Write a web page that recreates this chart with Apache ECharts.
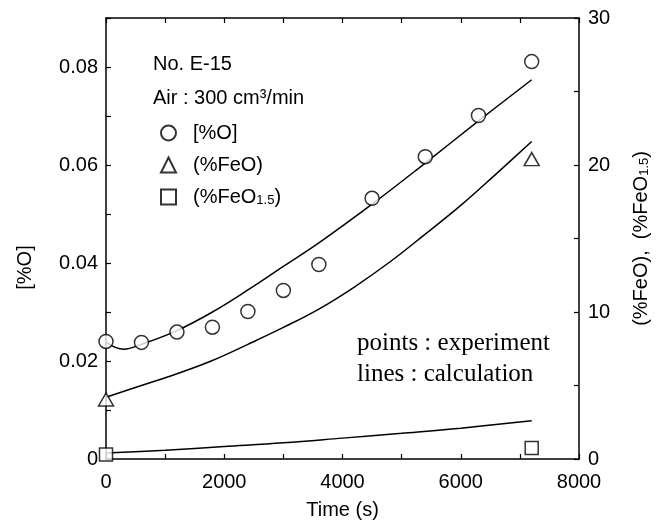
<!DOCTYPE html>
<html><head><meta charset="utf-8">
<script src="https://cdn.jsdelivr.net/npm/echarts@6/dist/echarts.min.js"></script>
<style>html,body{margin:0;padding:0;background:#fff}#c{width:667px;height:525px}</style>
</head><body><div id="c"></div>
<script>
// experimental points
const timeO = [0, 600, 1200, 1800, 2400, 3000, 3600, 4500, 5400, 6300, 7200];
const expO = [0.0240, 0.0238, 0.0259, 0.0269, 0.0301, 0.0344, 0.0397, 0.0532, 0.0617, 0.0701, 0.0811];
const timeFe = [0, 7200];
const expFeO = [4.05, 20.4];
const expFeO15 = [0.3, 0.75];
// calculated lines
const calcTimeO = [0, 300, 600, 1200, 1800, 2400, 3000, 3600, 4500, 5400, 6300, 7200];
const calcO = [0.0238, 0.0224, 0.0234, 0.0262, 0.0300, 0.0345, 0.0393, 0.0441, 0.0520, 0.0604, 0.0690, 0.0774];
const calcTimeFeO = [0, 600, 1200, 1800, 2400, 3000, 3600, 4200, 4800, 5400, 6000, 6600, 7200];
const calcFeO = [4.2, 5.0, 5.8, 6.7, 7.8, 8.95, 10.2, 11.7, 13.4, 15.3, 17.25, 19.4, 21.6];
const calcTimeFeO15 = [0, 1000, 2000, 3000, 4000, 5000, 6000, 7200];
const calcFeO15 = [0.4, 0.6, 0.85, 1.1, 1.42, 1.75, 2.1, 2.6];

const zip = (a, b) => a.map((v, i) => [v, b[i]]);
const F = 'Liberation Sans, Arial, sans-serif';
const chart = echarts.init(document.getElementById('c'));
const axisCommon = {
  axisLine: {show: true, onZero: false, lineStyle: {color: '#000', width: 1.5}},
  axisTick: {show: true, inside: true, length: 5, lineStyle: {color: '#000', width: 1.2}},
  splitLine: {show: false}
};
chart.setOption({
  animation: false,
  backgroundColor: '#fff',
  grid: {left: 106, right: 88, top: 18, bottom: 65},
  legend: {
    orient: 'vertical', left: 155, top: 118, itemWidth: 15, itemHeight: 15, itemGap: 12,
    data: ['[%O]', '(%FeO)', '(%FeO1.5)'],
    formatter: n => n === '(%FeO1.5)' ? '(%FeO{sub|1.5})' : n,
    textStyle: {fontFamily: F, fontSize: 20, color: '#000', padding: [0, 0, 0, 12],
      rich: {sub: {fontFamily: F, fontSize: 13, verticalAlign: 'bottom', color: '#000'}}}
  },
  graphic: [
    {type: 'text', left: 153, top: 54, style: {text: 'No. E-15', font: '20px ' + F, fill: '#000'}},
    {type: 'text', left: 153, top: 88, style: {text: 'Air : 300 cm³/min', font: '20px ' + F, fill: '#000'}},
    {type: 'text', left: 357, top: 328, style: {text: 'points : experiment\nlines : calculation', font: '25px Liberation Serif, Times New Roman, serif', fill: '#000', lineHeight: 31}}
  ],
  xAxis: [
    Object.assign({type: 'value', min: 0, max: 8000, interval: 1000, position: 'bottom',
      name: 'Time (s)', nameLocation: 'middle', nameGap: 41,
      nameTextStyle: {fontFamily: F, fontSize: 20, color: '#000'},
      axisLabel: {fontFamily: F, fontSize: 20, color: '#000', margin: 13,
        formatter: v => v % 2000 === 0 ? String(v) : ''}}, axisCommon),
    Object.assign({type: 'value', min: 0, max: 8000, interval: 1000, position: 'top',
      axisLabel: {show: false}}, axisCommon)
  ],
  yAxis: [
    Object.assign({type: 'value', min: 0, max: 0.09, interval: 0.01, position: 'left',
      name: '[%O]', nameLocation: 'middle', nameGap: 71,
      nameTextStyle: {fontFamily: F, fontSize: 20, color: '#000', padding: [0, 58, 0, 0]},
      axisLabel: {fontFamily: F, fontSize: 20, color: '#000', margin: 8,
        formatter: v => { const r = Math.round(v * 100); return r === 0 ? '0' : (r % 2 === 0 ? (r / 100).toFixed(2) : ''); }}}, axisCommon),
    Object.assign({type: 'value', min: 0, max: 30, interval: 5, position: 'right',
      name: '(%FeO),  (%FeO{sub|1.5})', nameLocation: 'middle', nameGap: 52,
      nameTextStyle: {fontFamily: F, fontSize: 20, color: '#000',
        rich: {sub: {fontFamily: F, fontSize: 13, verticalAlign: 'bottom', color: '#000'}}},
      axisLabel: {fontFamily: F, fontSize: 20, color: '#000', margin: 9,
        formatter: v => v % 10 === 0 ? String(v) : ''}}, axisCommon)
  ],
  series: [
    {name: 'calcO', type: 'line', xAxisIndex: 0, yAxisIndex: 0, data: zip(calcTimeO, calcO), smooth: 0.4, showSymbol: false, lineStyle: {color: '#000', width: 1.5}, z: 2},
    {name: 'calcFeO', type: 'line', xAxisIndex: 0, yAxisIndex: 1, data: zip(calcTimeFeO, calcFeO), smooth: 0.4, showSymbol: false, lineStyle: {color: '#000', width: 1.5}, z: 2},
    {name: 'calcFeO15', type: 'line', xAxisIndex: 0, yAxisIndex: 1, data: zip(calcTimeFeO15, calcFeO15), smooth: 0.4, showSymbol: false, lineStyle: {color: '#000', width: 1.5}, z: 2},
    {name: '[%O]', type: 'scatter', xAxisIndex: 0, yAxisIndex: 0, data: zip(timeO, expO), symbol: 'circle', symbolSize: 14, itemStyle: {color: '#fff', borderColor: '#000', borderWidth: 1.5}, z: 3},
    {name: '(%FeO)', type: 'scatter', xAxisIndex: 0, yAxisIndex: 1, data: zip(timeFe, expFeO), symbol: 'triangle', symbolSize: [15, 13], itemStyle: {color: '#fff', borderColor: '#000', borderWidth: 1.5}, z: 3},
    {name: '(%FeO1.5)', type: 'scatter', xAxisIndex: 0, yAxisIndex: 1, data: zip(timeFe, expFeO15), symbol: 'rect', symbolSize: 13, itemStyle: {color: '#fff', borderColor: '#000', borderWidth: 1.5}, z: 3}
  ]
});
</script></body></html>
